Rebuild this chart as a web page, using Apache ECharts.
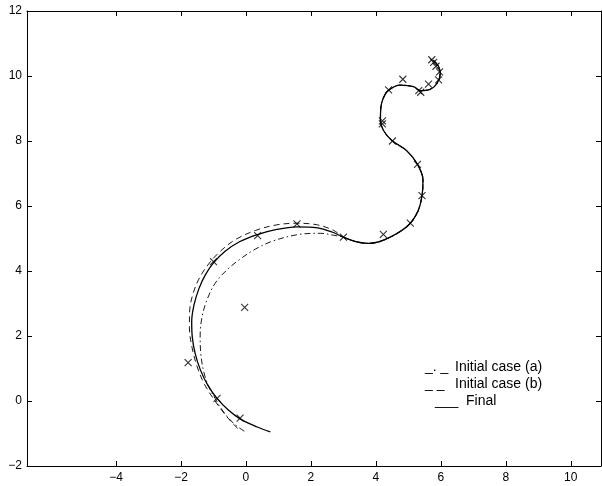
<!DOCTYPE html>
<html><head><meta charset="utf-8">
<script src="https://cdn.jsdelivr.net/npm/echarts@6/dist/echarts.min.js"></script>
<style>html,body{margin:0;padding:0;background:#fff}#c{width:602px;height:486px}</style>
</head><body><div id="c"></div>
<script>
// Final path
const finalX = [0.75,0.35,-0.18,-0.55,-0.89,-1.17,-1.4,-1.56,-1.65,-1.67,-1.6,-1.45,-1.25,-1.0,-0.65,-0.2,0.35,0.95,1.57,2.2,2.65,3.0,3.4,3.77,4.1,4.44,4.8,5.06,5.3,5.42,5.45,5.28,4.95,4.5,4.25,4.14,4.15,4.22,4.38,4.75,5.16,5.36,5.67,5.88,5.98,5.93,5.77];
const finalY = [-0.95,-0.8,-0.55,-0.27,0.08,0.48,0.95,1.45,1.95,2.45,2.95,3.45,3.88,4.25,4.6,4.9,5.12,5.28,5.36,5.33,5.2,5.04,4.9,4.85,4.9,5.04,5.25,5.47,5.85,6.32,6.8,7.28,7.7,8.01,8.3,8.65,9.0,9.3,9.55,9.72,9.67,9.55,9.59,9.77,10.08,10.29,10.49];
// Initial case (a) head (dash-dot), then joins final
const caseAX = [-0.05,-0.38,-0.7,-0.95,-1.15,-1.3,-1.39,-1.41,-1.35,-1.2,-0.95,-0.6,-0.2,0.3,0.85,1.6,2.29,2.7];
const caseAY = [-0.93,-0.69,-0.32,0.08,0.45,0.9,1.45,2.0,2.6,3.11,3.62,4.02,4.35,4.68,4.93,5.12,5.16,5.1];
// Initial case (b) head (dashed), then joins final
const caseBX = [-0.25,-0.6,-0.95,-1.27,-1.5,-1.66,-1.74,-1.73,-1.63,-1.45,-1.2,-0.85,-0.35,0.3,0.95,1.57,2.2,2.7];
const caseBY = [-0.85,-0.47,0.0,0.5,1.05,1.65,2.25,2.8,3.3,3.75,4.15,4.55,4.95,5.25,5.42,5.47,5.42,5.25];
// Index in final path where the initial cases join
const joinIndex = 21;
// Markers (x)
const markX = [-0.18,-0.89,-1.78,-0.04,-1.0,0.36,1.57,3.0,4.23,5.06,5.42,5.28,4.51,4.2,4.2,4.39,4.83,5.32,5.38,5.62,5.93,5.96,5.85,5.78,5.72];
const markY = [-0.53,0.08,1.18,2.88,4.29,5.09,5.45,5.04,5.13,5.47,6.32,7.28,8.0,8.62,8.53,9.57,9.9,9.55,9.5,9.75,9.88,10.13,10.3,10.42,10.5];
const xTicks = [-4,-2,0,2,4,6,8,10];
const yTicks = [-2,0,2,4,6,8,10,12];
const legendKeys = ['_. _','_ _','___'];
const legendLabels = ['Initial case (a)','Initial case (b)','Final'];

const zip = (xs, ys) => xs.map((x,i)=>[x, ys[i]]);
const finalPts = zip(finalX, finalY);
const tail = finalPts.slice(joinIndex);
const aPts = zip(caseAX, caseAY).concat(tail);
const bPts = zip(caseBX, caseBY).concat(tail);

const font = '"Liberation Sans", Arial, Helvetica, sans-serif';
const fmt = v => String(v).replace('-', '\u2212');
const xmin = -6.74, xmax = 10.93;

const chart = echarts.init(document.getElementById('c'), null, {renderer:'canvas'});
const axisLineStyle = {color:'#000', width:1};
const keyX = [425, 425, 435], labX = [455, 455, 466], rowY = [367, 384, 401];
const graphics = [];
for (let i = 0; i < 3; i++) {
  graphics.push({type:'text',x:keyX[i],y:rowY[i],style:{text:legendKeys[i],font:'14px '+font,fill:'#000',textVerticalAlign:'middle'}});
  graphics.push({type:'text',x:labX[i],y:rowY[i],style:{text:legendLabels[i],font:'14px '+font,fill:'#000',textVerticalAlign:'middle'}});
}
chart.setOption({
  animation:false,
  backgroundColor:'#fff',
  grid:{left:27,right:1,top:11,bottom:20,containLabel:false},
  xAxis:[
    {type:'value',min:xmin,max:xmax,position:'bottom',
     axisLine:{onZero:false,lineStyle:axisLineStyle},
     axisTick:{inside:true,length:5,customValues:xTicks,lineStyle:axisLineStyle},
     axisLabel:{customValues:xTicks,formatter:fmt,color:'#000',fontFamily:font,fontSize:12,margin:6},
     splitLine:{show:false}},
    {type:'value',min:xmin,max:xmax,position:'top',
     axisLine:{onZero:false,lineStyle:axisLineStyle},
     axisTick:{inside:true,length:5,customValues:xTicks,lineStyle:axisLineStyle},
     axisLabel:{show:false},splitLine:{show:false}}
  ],
  yAxis:[
    {type:'value',min:-2,max:12,interval:2,position:'left',
     axisLine:{onZero:false,lineStyle:axisLineStyle},
     axisTick:{inside:true,length:5,lineStyle:axisLineStyle},
     axisLabel:{formatter:fmt,color:'#000',fontFamily:font,fontSize:12,margin:5},
     splitLine:{show:false}},
    {type:'value',min:-2,max:12,interval:2,position:'right',
     axisLine:{onZero:false,lineStyle:axisLineStyle},
     axisTick:{inside:true,length:5,lineStyle:axisLineStyle},
     axisLabel:{show:false},splitLine:{show:false}}
  ],
  series:[
    {name:'Initial case (a)',type:'line',data:aPts,smooth:0.35,showSymbol:false,
     lineStyle:{color:'#000',width:0.9,type:[6,3,1.5,3]}},
    {name:'Initial case (b)',type:'line',data:bPts,smooth:0.35,showSymbol:false,
     lineStyle:{color:'#000',width:0.9,type:[6,4]}},
    {name:'Final',type:'line',data:finalPts,smooth:0.35,showSymbol:false,
     lineStyle:{color:'#000',width:1.3}},
    {name:'marks',type:'scatter',data:zip(markX,markY),
     symbol:'path://M0,0L10,10M10,0L0,10',symbolSize:7,
     itemStyle:{color:'none',borderColor:'#000',borderWidth:1.1}}
  ],
  graphic:graphics
});
</script></body></html>
